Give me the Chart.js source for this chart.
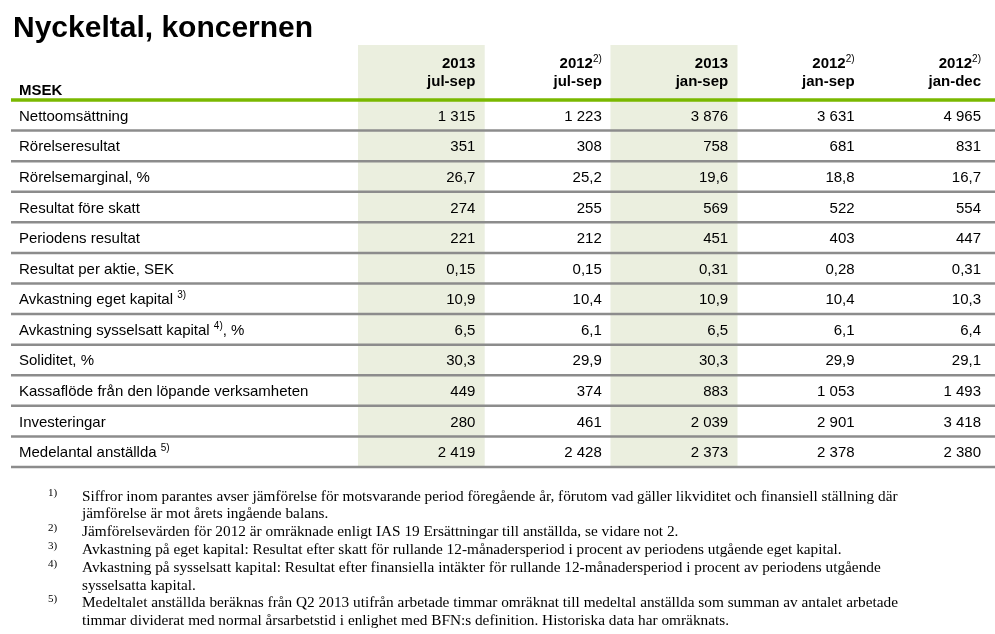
<!DOCTYPE html>
<html>
<head>
<meta charset="utf-8">
<script src="https://cdn.jsdelivr.net/npm/chart.js@4/dist/chart.umd.min.js"></script>
<style>
html,body{margin:0;padding:0;background:#fff;}
#wrap{position:relative;width:995px;height:634px;overflow:hidden;}
</style>
</head>
<body>
<div id="wrap"><canvas id="c" width="995" height="634"></canvas></div>
<script>
// ---------- DATA ----------
const titleText = 'Nyckeltal, koncernen';
const unitLabel = 'MSEK';
const periodYears  = ['2013', '2012', '2013', '2012', '2012'];
const periodMonths = ['jul-sep', 'jul-sep', 'jan-sep', 'jan-sep', 'jan-dec'];
const periodNotes  = ['', '2)', '', '2)', '2)'];
const shadedColumns = [true, false, true, false, false];

const rowLabels = [
  'Nettoomsättning',
  'Rörelseresultat',
  'Rörelsemarginal, %',
  'Resultat före skatt',
  'Periodens resultat',
  'Resultat per aktie, SEK',
  'Avkastning eget kapital ^3)',
  'Avkastning sysselsatt kapital ^4), %',
  'Soliditet, %',
  'Kassaflöde från den löpande verksamheten',
  'Investeringar',
  'Medelantal anställda ^5)'
];
const rowDecimals = [0, 0, 1, 0, 0, 2, 1, 1, 1, 0, 0, 0];

const q3_2013  = [1315, 351, 26.7, 274, 221, 0.15, 10.9, 6.5, 30.3, 449, 280, 2419];
const q3_2012  = [1223, 308, 25.2, 255, 212, 0.15, 10.4, 6.1, 29.9, 374, 461, 2428];
const ytd_2013 = [3876, 758, 19.6, 569, 451, 0.31, 10.9, 6.5, 30.3, 883, 2039, 2373];
const ytd_2012 = [3631, 681, 18.8, 522, 403, 0.28, 10.4, 6.1, 29.9, 1053, 2901, 2378];
const fy_2012  = [4965, 831, 16.7, 554, 447, 0.31, 10.3, 6.4, 29.1, 1493, 3418, 2380];
const columnValues = [q3_2013, q3_2012, ytd_2013, ytd_2012, fy_2012];

const footnoteMarks = ['1)', '', '2)', '3)', '4)', '', '5)', ''];
const footnoteLines = [
  'Siffror inom parantes avser jämförelse för motsvarande period föregående år, förutom vad gäller likviditet och finansiell ställning där',
  'jämförelse är mot årets ingående balans.',
  'Jämförelsevärden för 2012 är omräknade enligt IAS 19 Ersättningar till anställda, se vidare not 2.',
  'Avkastning på eget kapital: Resultat efter skatt för rullande 12-månadersperiod i procent av periodens utgående eget kapital.',
  'Avkastning på sysselsatt kapital: Resultat efter finansiella intäkter för rullande 12-månadersperiod i procent av periodens utgående',
  'sysselsatta kapital.',
  'Medeltalet anställda beräknas från Q2 2013 utifrån arbetade timmar omräknat till medeltal anställda som summan av antalet arbetade',
  'timmar dividerat med normal årsarbetstid i enlighet med BFN:s definition. Historiska data har omräknats.'
];

// ---------- LAYOUT / STYLE ----------
const HEADER_ROWS = 1.8;          // header height in row units
const Y_MIN = -0.5 - HEADER_ROWS;
const Y_MAX = rowLabels.length - 0.5;
const SANS = '"Liberation Sans", Arial, sans-serif';
const SERIF = '"Liberation Serif", "Times New Roman", serif';
const TABLE_LEFT = 11;
const LABEL_X = 19;
const CELL_PAD = 9;
const SHADE = '#ebefdf';
const GREEN = '#7ab800';
const GRAY = '#8c8c8c';

function fmt(v, d) {
  const s = v.toFixed(d);
  let [i, f] = s.split('.');
  i = i.replace(/\B(?=(\d{3})+(?!\d))/g, ' ');
  return f ? i + ',' + f : i;
}

// draw text with ^N) superscripts; align 'left' or 'right'
function drawRich(ctx, str, x, baseY, font, supFont, align) {
  const parts = str.split(/\^(\d\))/);
  const segs = parts.map((p, k) => ({ t: p, sup: k % 2 === 1 }));
  let total = 0;
  segs.forEach(s => { ctx.font = s.sup ? supFont : font; s.w = ctx.measureText(s.t).width; total += s.w; });
  let cx = align === 'right' ? x - total : x;
  ctx.textAlign = 'left';
  segs.forEach(s => {
    ctx.font = s.sup ? supFont : font;
    ctx.fillText(s.t, cx, s.sup ? baseY - 6 : baseY);
    cx += s.w;
  });
}

const tablePlugin = {
  id: 'tablePlugin',
  afterDatasetsDraw(chart) {
    const { ctx, scales: { x, y } } = chart;
    const W = chart.width;
    const colW = x.getPixelForValue(1) - x.getPixelForValue(0);
    ctx.save();
    ctx.fillStyle = '#000';
    ctx.textBaseline = 'alphabetic';

    // title
    ctx.font = 'bold 30px ' + SANS;
    ctx.textAlign = 'left';
    ctx.fillText(titleText, 13, 37);

    // row separators
    ctx.strokeStyle = GRAY;
    ctx.lineWidth = 2.5;
    for (let i = 0; i < rowLabels.length; i++) {
      const yy = y.getPixelForValue(i + 0.5);
      ctx.beginPath(); ctx.moveTo(TABLE_LEFT, yy); ctx.lineTo(W, yy); ctx.stroke();
    }
    // header rule
    const gy = y.getPixelForValue(-0.5);
    ctx.strokeStyle = GREEN;
    ctx.lineWidth = 3.5;
    ctx.beginPath(); ctx.moveTo(TABLE_LEFT, gy); ctx.lineTo(W, gy); ctx.stroke();

    // header
    ctx.font = 'bold 15px ' + SANS;
    ctx.textAlign = 'left';
    ctx.fillText(unitLabel, LABEL_X, gy - 5);
    periodYears.forEach((yr, c) => {
      const right = x.getPixelForValue(c) + colW / 2 - CELL_PAD;
      drawRich(ctx, periodNotes[c] ? yr + '^' + periodNotes[c] : yr, right, gy - 32,
               'bold 15px ' + SANS, '10px ' + SANS, 'right');
      ctx.font = 'bold 15px ' + SANS;
      ctx.textAlign = 'right';
      ctx.fillText(periodMonths[c], right, gy - 14);
    });

    // body
    rowLabels.forEach((lab, r) => {
      const base = y.getPixelForValue(r) + 5.5;
      drawRich(ctx, lab, LABEL_X, base, '15px ' + SANS, '10px ' + SANS, 'left');
      columnValues.forEach((vals, c) => {
        const right = x.getPixelForValue(c) + colW / 2 - CELL_PAD;
        ctx.font = '15px ' + SANS;
        ctx.textAlign = 'right';
        ctx.fillText(fmt(vals[r], rowDecimals[r]), right, base);
      });
    });

    // footnotes
    footnoteLines.forEach((line, k) => {
      const base = 500.5 + k * 17.8;
      if (footnoteMarks[k]) {
        ctx.font = '11px ' + SERIF;
        ctx.textAlign = 'left';
        ctx.fillText(footnoteMarks[k], 48, base - 5);
      }
      ctx.font = '15.3px ' + SERIF;
      ctx.textAlign = 'left';
      ctx.fillText(line, 82, base);
    });
    ctx.restore();
  }
};

new Chart(document.getElementById('c'), {
  type: 'bar',
  data: {
    labels: periodYears.map((yr, c) => yr + ' ' + periodMonths[c]),
    datasets: [{
      label: 'shade',
      data: shadedColumns.map(s => s ? [Y_MIN, Y_MAX] : null),
      backgroundColor: SHADE,
      borderWidth: 0,
      barPercentage: 1,
      categoryPercentage: 1
    }]
  },
  options: {
    responsive: false,
    animation: false,
    devicePixelRatio: 1,
    events: [],
    layout: { padding: { left: 358, right: 5, top: 45, bottom: 167 } },
    plugins: { legend: { display: false }, tooltip: { enabled: false }, title: { display: false } },
    scales: {
      x: { type: 'category', display: false, offset: true },
      y: { type: 'linear', display: false, reverse: true, min: Y_MIN, max: Y_MAX }
    }
  },
  plugins: [tablePlugin]
});
</script>
</body>
</html>
